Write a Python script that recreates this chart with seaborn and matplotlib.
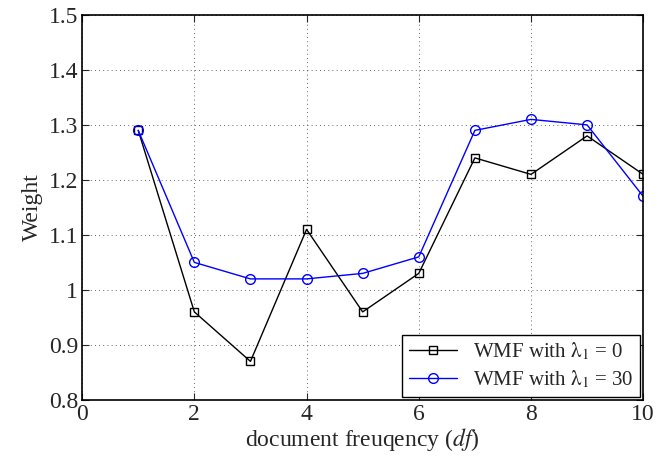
import numpy as np
import pandas as pd
import matplotlib
matplotlib.use('Agg')
import matplotlib.pyplot as plt
import seaborn as sns

df_vals = [1, 2, 3, 4, 5, 6, 7, 8, 9, 10]
wmf_0 = [1.29, 0.96, 0.87, 1.11, 0.96, 1.03, 1.24, 1.21, 1.28, 1.21]
wmf_30 = [1.29, 1.05, 1.02, 1.02, 1.03, 1.06, 1.29, 1.31, 1.30, 1.17]
x_ticks = [0, 2, 4, 6, 8, 10]
y_ticks = [0.8, 0.9, 1.0, 1.1, 1.2, 1.3, 1.4, 1.5]
y_tick_labels = ['0.8', '0.9', '1', '1.1', '1.2', '1.3', '1.4', '1.5']

sns.set_style('ticks')
plt.rcParams['font.family'] = ['Liberation Serif', 'DejaVu Serif']
plt.rcParams['mathtext.fontset'] = 'stix'

data = pd.DataFrame({'df': df_vals, 'w0': wmf_0, 'w30': wmf_30})

fig = plt.figure(figsize=(6.57, 4.65), dpi=100)
ax = fig.add_axes([0.125, 0.140, 0.854, 0.828])

sns.lineplot(data=data, x='df', y='w0', ax=ax, color='black', marker='s',
             markersize=6, markerfacecolor='none', markeredgecolor='black',
             markeredgewidth=1.0, linewidth=1.0, label=r'WMF with $\mathrm{\lambda}_{1}$ = 0')
sns.lineplot(data=data, x='df', y='w30', ax=ax, color='blue', marker='o',
             markersize=7, markerfacecolor='none', markeredgecolor='blue',
             markeredgewidth=1.0, linewidth=1.0, label=r'WMF with $\mathrm{\lambda}_{1}$ = 30')

ax.set_xlim(0, 10)
ax.set_ylim(0.8, 1.5)
ax.set_xticks(x_ticks)
ax.set_yticks(y_ticks)
ax.set_yticklabels(y_tick_labels)
ax.tick_params(direction='in', length=5, labelsize=17, top=True, right=True, width=0.8, pad=3)
ax.grid(True, linestyle=(0, (1, 4)), color='black', linewidth=0.6, alpha=0.8)
for s in ax.spines.values():
    s.set_linewidth(1.2)
    s.set_color('black')

ax.set_xlabel(r'document freuqency ($\mathit{df}$)', fontsize=17, labelpad=1)
ax.set_ylabel('Weight', fontsize=17, labelpad=4)

leg = ax.legend(loc='lower right', fontsize=15, frameon=True, fancybox=False,
                edgecolor='black', framealpha=1, borderaxespad=0.15, handlelength=2.3,
                labelspacing=0.3, borderpad=0.3)
leg.get_frame().set_linewidth(1.0)

fig.savefig('out.png', dpi=100)
